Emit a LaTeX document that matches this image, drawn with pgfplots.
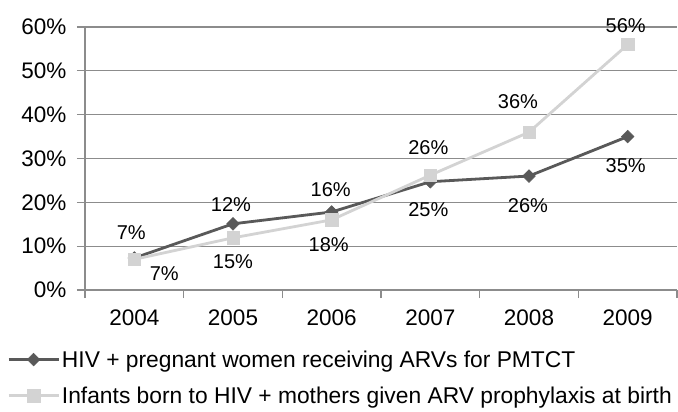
\documentclass[border=0pt]{standalone}
\usepackage{pgfplots}
\pgfplotsset{compat=1.18}
\usepackage{pgfplotstable}
\usepackage{fontspec}
\setmainfont{Liberation Sans}
\definecolor{darkser}{HTML}{595959}
\definecolor{lightser}{HTML}{D3D3D3}
\definecolor{gridc}{HTML}{8C8C8C}

\pgfplotstableread{
x y lab dx dy
0 7.3 7 -3 25
1 15.1 12 -2 19
2 17.8 16 -1 22
3 24.7 25 -2 -28
4 26 26 -1 -30
5 35 35 -2 -29
}\darkdata
\pgfplotstableread{
x y lab dx dy
0 7 7 30 -14
1 11.9 15 0 -24
2 16 18 -3 -25
3 26.2 26 -2 28
4 36 36 -11 31
5 56 56 -2 19
}\lightdata

\begin{document}
\begin{tikzpicture}
\begin{axis}[
  scale only axis, width=592pt, height=263pt,
  xmin=-0.5, xmax=5.5, ymin=0, ymax=60,
  xtick={0,1,2,3,4,5}, xticklabels={2004,2005,2006,2007,2008,2009},
  major x tick style={draw=none},
  minor xtick={-0.5,0.5,1.5,2.5,3.5,4.5,5.5},
  minor tick length=8pt,
  ytick={0,10,20,30,40,50,60},
  yticklabel={\pgfmathprintnumber{\tick}\%},
  /pgf/number format/assume math mode=true,
  major tick length=8pt,
  tick align=outside,
  ymajorgrids,
  major grid style={gridc, line width=1.2pt},
  y tick style={gridc, line width=1.2pt},
  minor x tick style={gridc, line width=1.2pt},
  axis x line*=bottom, axis y line*=left,
  axis line style={gridc, line width=1.5pt, -},
  tick label style={font=\fontsize{22.5}{26}\selectfont, text=black},
  yticklabel style={xshift=-7pt},
  xticklabel style={yshift=-8pt},
  legend style={draw=none, fill=none, at={(-0.1318,-0.222)}, anchor=north west,
    inner sep=0pt, row sep=14pt, font=\fontsize{22.8}{26}\selectfont},
  legend cell align=left,
  legend image code/.code={\draw[mark repeat=2, mark phase=2, #1] plot coordinates {(0pt,0pt) (25pt,0pt) (50pt,0pt)};},
  clip=false,
]
\addplot[darkser, line width=2.8pt, mark=square*, mark size=4.5pt,
  mark options={rotate=45, solid, line width=0.5pt},
  point meta=explicit symbolic,
  visualization depends on={\thisrow{dx} \as \dx},
  visualization depends on={\thisrow{dy} \as \dy},
  nodes near coords={\pgfplotspointmeta\%},
  every node near coord/.append style={anchor=center, xshift=\dx pt, yshift=\dy pt, text=black, font=\fontsize{20}{23}\selectfont}]
  table[x=x, y=y, meta=lab]{\darkdata};
\addlegendentry{HIV + pregnant women receiving ARVs for PMTCT}
\addplot[lightser, line width=2.8pt, mark=square*, mark size=6.2pt,
  mark options={solid, line width=0.5pt},
  point meta=explicit symbolic,
  visualization depends on={\thisrow{dx} \as \dx},
  visualization depends on={\thisrow{dy} \as \dy},
  nodes near coords={\pgfplotspointmeta\%},
  every node near coord/.append style={anchor=center, xshift=\dx pt, yshift=\dy pt, text=black, font=\fontsize{20}{23}\selectfont}]
  table[x=x, y=y, meta=lab]{\lightdata};
\addlegendentry{Infants born to HIV + mothers given ARV prophylaxis at birth}
\end{axis}
\pgfresetboundingbox
\path ([xshift=-85pt,yshift=-122pt]current axis.south west) rectangle ([xshift=1pt,yshift=27pt]current axis.north east);
\end{tikzpicture}
\end{document}
